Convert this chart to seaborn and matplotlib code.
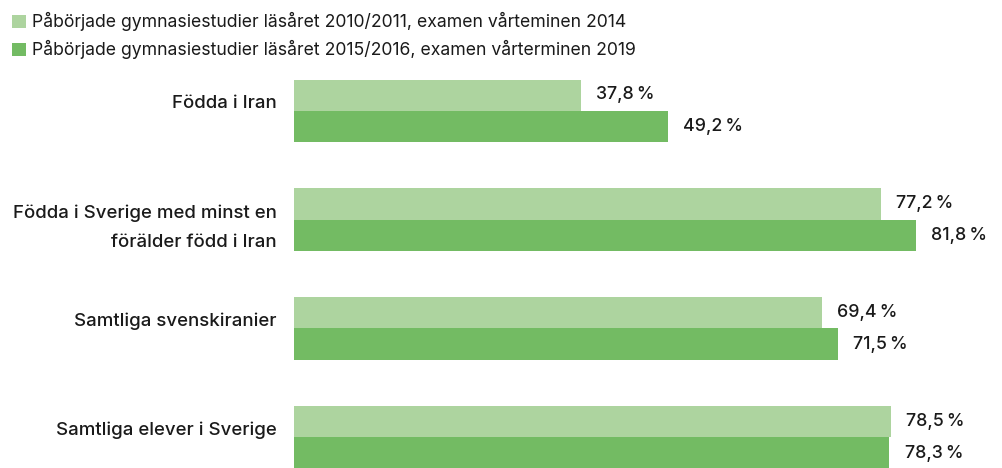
import pandas as pd
import matplotlib.pyplot as plt
import matplotlib.transforms as mtransforms
import seaborn as sns

# data
categories = [
    'Födda i Iran',
    'Födda i Sverige med minst en\nförälder född i Iran',
    'Samtliga svenskiranier',
    'Samtliga elever i Sverige',
]
series_names = [
    'Påbörjade gymnasiestudier läsåret 2010/2011, examen vårteminen 2014',
    'Påbörjade gymnasiestudier läsåret 2015/2016, examen vårterminen 2019',
]
values_2014 = [37.8, 77.2, 69.4, 78.5]
values_2019 = [49.2, 81.8, 71.5, 78.3]
colors = ['#add49f', '#73bb63']

df = pd.DataFrame({
    'Grupp': categories * 2,
    'Serie': [series_names[0]] * 4 + [series_names[1]] * 4,
    'Andel': values_2014 + values_2019,
})

sns.set_theme(style='white')
plt.rcParams['font.family'] = ['Inter', 'DejaVu Sans']
text_color = '#1a1a1a'
fs = 12.8

fig = plt.figure(figsize=(10.02, 4.68), dpi=100)
ax = fig.add_axes([0.293, 0.0, 0.7, (468 - 80) / 468])

sns.barplot(data=df, x='Andel', y='Grupp', hue='Serie', palette=colors,
            order=categories, hue_order=series_names, width=0.57,
            orient='h', ax=ax, saturation=1, linewidth=0, legend=True)

for cont in ax.containers:
    ax.bar_label(cont, labels=[f'{v:.1f}\u2009%'.replace('.', ',') for v in cont.datavalues],
                 padding=11, fontsize=fs, fontweight='medium', color=text_color)

ax.set_xlim(0, 92.2)
ax.set_ylim(3.28, -0.28)
ax.set_xlabel('')
ax.set_ylabel('')
ax.set_xticks([])
ax.tick_params(axis='y', length=0, pad=12)
shift_up = mtransforms.ScaledTranslation(0, 9 / 100, fig.dpi_scale_trans)
for lab in ax.get_yticklabels():
    lab.set_fontsize(13.4)
    lab.set_fontweight('medium')
    lab.set_color(text_color)
    lab.set_linespacing(1.95)
    if '\n' not in lab.get_text():
        lab.set_transform(lab.get_transform() + shift_up)
sns.despine(ax=ax, left=True, bottom=True)

handles, labels = ax.get_legend_handles_labels()
ax.get_legend().remove()
fig.legend(handles, labels, loc='upper left', bbox_to_anchor=(0.0, 1.0),
           frameon=False, fontsize=12.7, handlelength=0.75, handleheight=0.75,
           handletextpad=0.35, labelspacing=0.5, borderaxespad=0.3,
           labelcolor=text_color)

fig.savefig('out.png', dpi=100)
